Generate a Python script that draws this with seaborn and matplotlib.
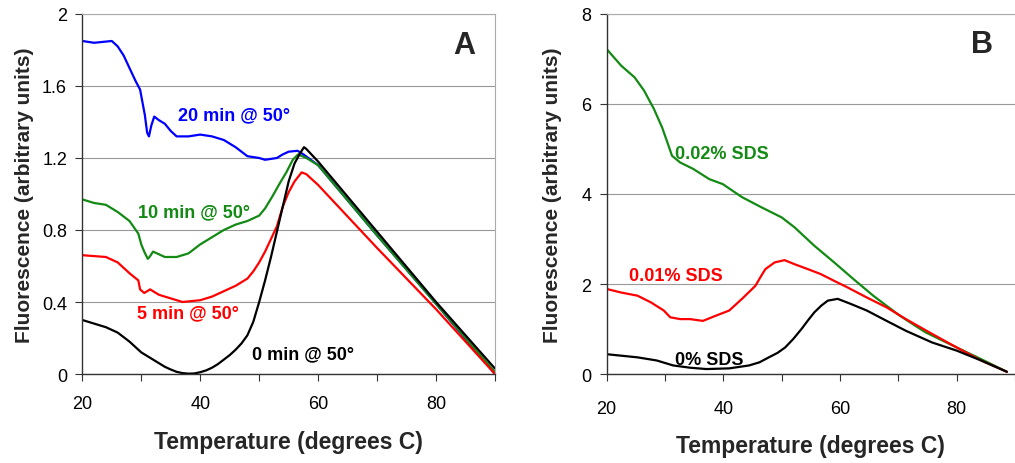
import numpy as np
import pandas as pd
import seaborn as sns
from matplotlib import pyplot as plt
from matplotlib.ticker import FuncFormatter

# PANEL A DATA (minutes held at 50 degrees)
temp_blue = [20, 22, 25, 26, 27, 28, 29, 29.8, 30.2, 30.6, 31, 31.3, 31.7, 32.2, 33, 34, 35, 36,
             38, 40, 42, 44, 46, 48, 50, 51, 53, 54, 55, 56.5, 57.5, 60, 70, 80, 90]
fl_blue = [1.85, 1.84, 1.85, 1.82, 1.77, 1.70, 1.63, 1.58, 1.51, 1.44, 1.34, 1.32, 1.38, 1.43, 1.41,
           1.39, 1.35, 1.32, 1.32, 1.33, 1.32, 1.30, 1.26, 1.21, 1.20, 1.19, 1.20, 1.22, 1.235, 1.24,
           1.22, 1.16, 0.77, 0.39, 0.0]

temp_green = [20, 22, 24, 26, 28, 29.5, 30, 30.5, 31.1, 31.4, 32, 34, 36, 38, 40, 42, 44, 46, 48,
              50, 51, 52.3, 53.5, 54.6, 55.7, 56.6, 58, 60, 70, 80, 90]
fl_green = [0.97, 0.95, 0.94, 0.90, 0.85, 0.78, 0.72, 0.68, 0.64, 0.65, 0.68, 0.65, 0.65, 0.67,
            0.72, 0.76, 0.80, 0.83, 0.85, 0.88, 0.92, 0.99, 1.06, 1.12, 1.19, 1.22, 1.20, 1.16,
            0.77, 0.39, 0.01]

temp_red = [20, 24, 26, 28, 29.5, 29.8, 30.5, 31.5, 33, 35, 37, 40, 42, 44, 46, 48, 49, 50, 51,
            52, 53, 54, 55, 56, 57.2, 58, 60, 70, 80, 90]
fl_red = [0.66, 0.65, 0.62, 0.56, 0.52, 0.47, 0.45, 0.47, 0.44, 0.42, 0.40, 0.41, 0.43, 0.46,
          0.49, 0.53, 0.57, 0.62, 0.68, 0.75, 0.82, 0.93, 1.01, 1.07, 1.12, 1.11, 1.05, 0.70,
          0.36, 0.0]

temp_black = [20, 22, 24, 26, 28, 30, 30.5, 32, 33, 34, 35, 36, 37, 38, 39, 40, 41, 42, 43, 44,
              45, 46, 47, 48, 49, 50, 51, 52, 53, 54, 55, 56, 57, 57.6, 58, 60, 70, 80, 90]
fl_black = [0.30, 0.28, 0.26, 0.23, 0.18, 0.12, 0.11, 0.08, 0.06, 0.04, 0.025, 0.012, 0.005,
            0.002, 0.003, 0.01, 0.02, 0.035, 0.055, 0.08, 0.105, 0.135, 0.17, 0.215, 0.29, 0.40,
            0.52, 0.65, 0.79, 0.93, 1.07, 1.17, 1.23, 1.26, 1.25, 1.18, 0.79, 0.40, 0.03]

# PANEL B DATA (SDS concentration)
temp_sds2 = [20, 22.5, 24.8, 26.4, 28.1, 29.5, 30.4, 31.2, 32.6, 34.8, 37.6, 39.9, 43.2, 46.6,
             50.0, 52.2, 55.6, 59.0, 62.3, 65.7, 70.2, 74.6, 80.0, 84.2, 88.6]
fl_sds2 = [7.22, 6.85, 6.59, 6.30, 5.89, 5.48, 5.15, 4.85, 4.70, 4.56, 4.33, 4.22, 3.93, 3.70,
           3.48, 3.26, 2.85, 2.48, 2.11, 1.74, 1.30, 0.93, 0.59, 0.33, 0.05]

temp_sds1 = [20, 22.5, 25.3, 27.6, 29.8, 30.9, 32.6, 34.3, 36.5, 38.8, 41.0, 43.2, 45.5, 46.4,
             47.2, 48.8, 50.5, 52.2, 54.5, 56.7, 59.0, 61.2, 64.6, 68.0, 71.3, 75.8, 80.0, 84.2,
             88.6]
fl_sds1 = [1.89, 1.81, 1.74, 1.59, 1.41, 1.26, 1.22, 1.22, 1.18, 1.30, 1.41, 1.67, 1.96, 2.16,
           2.33, 2.48, 2.53, 2.44, 2.33, 2.22, 2.07, 1.93, 1.70, 1.48, 1.22, 0.89, 0.59, 0.30,
           0.05]

temp_sds0 = [20, 25.3, 28.6, 31.4, 34.3, 37.1, 41.0, 44.4, 46.2, 47.8, 49.3, 50.6, 52.0, 53.4,
             54.5, 55.6, 56.8, 57.9, 59.6, 61.8, 64.6, 68.0, 71.3, 75.8, 80.0, 84.2, 88.6]
fl_sds0 = [0.44, 0.37, 0.30, 0.19, 0.14, 0.11, 0.125, 0.19, 0.26, 0.37, 0.47, 0.59, 0.78, 1.00,
           1.19, 1.37, 1.52, 1.63, 1.67, 1.56, 1.41, 1.18, 0.96, 0.70, 0.52, 0.30, 0.05]

BLUE, GREEN, RED, BLACK = "#0000ff", "#138a13", "#ff0000", "#000000"

sns.set_style("white")
plt.rcParams['font.family'] = ['Liberation Sans', 'DejaVu Sans']

fig = plt.figure(figsize=(10.15, 4.64), dpi=100)
axA = fig.add_axes([0.0811, 0.1918, 0.4066, 0.7759])
axB = fig.add_axes([0.5977, 0.1918, 0.4023, 0.7759])


def draw(ax, x, y, color):
    df = pd.DataFrame({"temp": x, "fl": y})
    sns.lineplot(data=df, x="temp", y="fl", ax=ax, color=color, lw=1.6, estimator=None, sort=False)


def style_axes(ax, ymax, ystep, xmax, xpad, xlabelpad, ylabelpad):
    ax.set_xlim(20, xmax)
    ax.set_ylim(0, ymax)
    ax.set_yticks(np.arange(0, ymax + ystep / 2, ystep))
    ax.set_xticks([20, 30, 40, 50, 60, 70, 80, 90])
    ax.xaxis.set_major_formatter(FuncFormatter(lambda v, p: "" if int(v) % 20 else f"{v:g}"))
    ax.yaxis.set_major_formatter(FuncFormatter(lambda v, p: f"{v:g}"))
    ax.yaxis.grid(True, color="#999999", lw=0.8)
    ax.set_axisbelow(True)
    for s in ["left", "bottom"]:
        ax.spines[s].set_color("#333333")
        ax.spines[s].set_linewidth(1.0)
    for s in ["top", "right"]:
        ax.spines[s].set_color("#aaaaaa")
        ax.spines[s].set_linewidth(0.8)
    ax.tick_params(axis="x", direction="out", length=5, width=0.8, pad=xpad,
                   labelsize=13, colors="#333333", labelcolor="black", bottom=True)
    ax.tick_params(axis="y", direction="out", length=5, width=0.8, pad=6,
                   labelsize=13, colors="#333333", labelcolor="black", left=True)
    ax.set_xlabel("Temperature (degrees C)", fontsize=16.5, fontweight="bold", labelpad=xlabelpad)
    ax.set_ylabel("Fluorescence (arbitrary units)", fontsize=15, fontweight="bold",
                  labelpad=ylabelpad)


# PANEL A
draw(axA, temp_blue, fl_blue, BLUE)
draw(axA, temp_green, fl_green, GREEN)
draw(axA, temp_red, fl_red, RED)
draw(axA, temp_black, fl_black, BLACK)
style_axes(axA, 2, 0.4, 90, 10, 13, 6)
txt = dict(fontsize=13, fontweight="bold", va="center", ha="left")
axA.text(36.2, 1.44, "20 min @ 50°", color=BLUE, **txt)
axA.text(29.4, 0.90, "10 min @ 50°", color=GREEN, **txt)
axA.text(29.2, 0.34, "5 min @ 50°", color=RED, **txt)
axA.text(48.7, 0.11, "0 min @ 50°", color=BLACK, **txt)
axA.text(84.8, 1.83, "A", fontsize=22, fontweight="bold", ha="center", va="center")

# PANEL B
draw(axB, temp_sds2, fl_sds2, GREEN)
draw(axB, temp_sds1, fl_sds1, RED)
draw(axB, temp_sds0, fl_sds0, BLACK)
style_axes(axB, 8, 2, 88.6, 14, 12, 14)
axB.spines["right"].set_visible(False)
axB.text(31.8, 4.91, "0.02% SDS", color=GREEN, **txt)
axB.text(23.8, 2.18, "0.01% SDS", color=RED, **txt)
axB.text(31.8, 0.33, "0% SDS", color=BLACK, **txt)
axB.text(84.4, 7.33, "B", fontsize=22, fontweight="bold", ha="center", va="center")

fig.savefig("out.png", dpi=100)
